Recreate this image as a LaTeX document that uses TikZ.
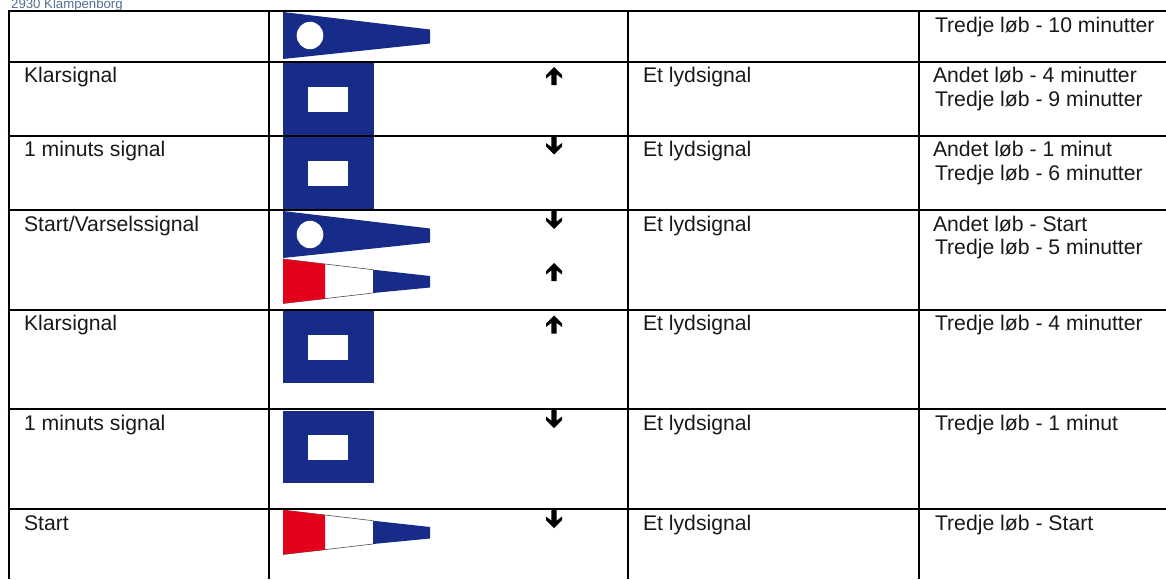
\documentclass[tikz,border=0pt]{standalone}
\usepackage{fontspec}
\setmainfont{Liberation Sans}
\definecolor{flagblue}{HTML}{172C88}
\definecolor{flagred}{HTML}{E2001A}
\definecolor{addr}{HTML}{4F6F96}
\tikzset{
  x=1pt,y=-1pt,
  rule/.style={black,line width=2.2pt},
  cell/.style={anchor=base west,inner sep=0pt,outer sep=0pt,font=\fontsize{21.2}{23}\selectfont,text=black!90},
  flagsquare/.pic={
    \fill[flagblue] (0,0) rectangle (91,72);
    \fill[white] (25,24) rectangle (65,49);
  },
  flagcircle/.pic={
    \fill[flagblue] (0,0) -- (147,17.5) -- (147,31.5) -- (0,47) -- cycle;
    \fill[white] (27,23.5) ellipse [x radius=13.3,y radius=13.7];
  },
  flagtri/.pic={
    \draw[black!70,line width=.6pt] (0,0) -- (90,10.7) (0,44.5) -- (90,34);
    \fill[flagred] (0,0) -- (42,5) -- (42,39.8) -- (0,44.5) -- cycle;
    \fill[flagblue] (90,10.7) -- (147,17) -- (147,28.5) -- (90,34) -- cycle;
  },
  arrowup/.pic={
    \fill[black] (0,0) -- (8,8) -- (8,11.5) -- (2.7,7.5) -- (2.7,18) -- (-2.7,18) -- (-2.7,7.5) -- (-8,11.5) -- (-8,8) -- cycle;
  },
  arrowdown/.pic={
    \fill[black] (0,18) -- (8,10) -- (8,6.5) -- (2.7,10.5) -- (2.7,0) -- (-2.7,0) -- (-2.7,10.5) -- (-8,6.5) -- (-8,10) -- cycle;
  },
}
\begin{document}
\begin{tikzpicture}
\useasboundingbox (0,0) rectangle (1166,579);
\clip (0,0) rectangle (1166,579);
\node[anchor=base west,inner sep=0,font=\fontsize{13.2}{15}\selectfont,text=addr] (addr) at (11,8) {2930 Klampenborg};
% flags
\pic at (283,12) {flagcircle};
\pic at (283,63) {flagsquare};
\pic at (283,137) {flagsquare};
\pic at (283,211) {flagcircle};
\pic at (283,259) {flagtri};
\pic at (283,311) {flagsquare};
\pic at (283,411) {flagsquare};
\pic at (283,510) {flagtri};
% table rules
\foreach \yy in {11,62,136,210,310,409,509} \draw[rule] (7.5,\yy) -- (1166,\yy);
\foreach \xx in {8.7,269,628,919} \draw[rule] (\xx,10) -- (\xx,579);
% signal arrows
\pic at (554,67) {arrowup};
\pic at (554,136.5) {arrowdown};
\pic at (554,211) {arrowdown};
\pic at (554,263) {arrowup};
\pic at (554,315.5) {arrowup};
\pic at (554,410) {arrowdown};
\pic at (554,510) {arrowdown};
% texts
\node[cell] (a2) at (24,82.5) {Klarsignal};
\node[cell] (a3) at (24,156.5) {1 minuts signal};
\node[cell] (a4) at (24,231) {Start/Varselssignal};
\node[cell] (a5) at (24,330) {Klarsignal};
\node[cell] (a6) at (24,430) {1 minuts signal};
\node[cell] (a7) at (24,530) {Start};
\node[cell] (c2) at (643,82.5) {Et lydsignal};
\node[cell] (c3) at (643,156.5) {Et lydsignal};
\node[cell] (c4) at (643,231) {Et lydsignal};
\node[cell] (c5) at (643,330) {Et lydsignal};
\node[cell] (c6) at (643,430) {Et lydsignal};
\node[cell] (c7) at (643,530) {Et lydsignal};
\node[cell] (d1) at (935,32.5) {Tredje løb - 10 minutter};
\node[cell] (d2a) at (933,82.5) {Andet løb - 4 minutter};
\node[cell] (d2b) at (935,106) {Tredje løb - 9 minutter};
\node[cell] (d3a) at (933,156.5) {Andet løb - 1 minut};
\node[cell] (d3b) at (935,180.5) {Tredje løb - 6 minutter};
\node[cell] (d4a) at (933,231) {Andet løb - Start};
\node[cell] (d4b) at (935,254) {Tredje løb - 5 minutter};
\node[cell] (d5) at (935,330) {Tredje løb - 4 minutter};
\node[cell] (d6) at (935,430) {Tredje løb - 1 minut};
\node[cell] (d7) at (935,530) {Tredje løb - Start};
\end{tikzpicture}
\end{document}
